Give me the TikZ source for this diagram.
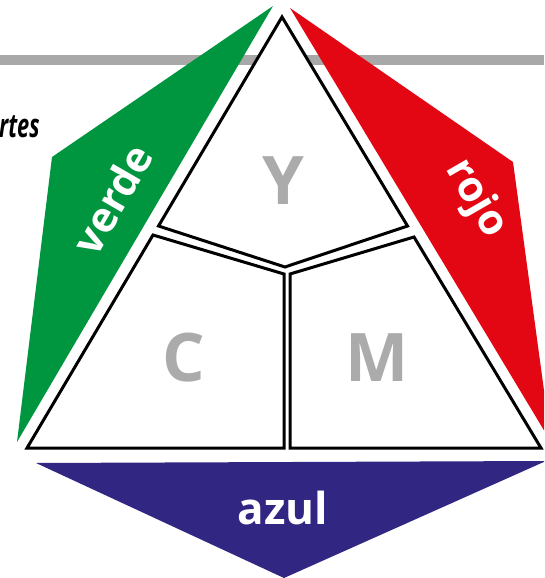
\documentclass[tikz,border=0pt]{standalone}
\usepackage{fontspec}
\setmainfont{Open Sans}
\begin{document}
\begin{tikzpicture}[x=1pt,y=-1pt,
  piece/.style={fill=white,draw=black,line width=3pt,line join=miter},
  cmy/.style={text=lettergray,inner sep=0pt,font=\bfseries\fontsize{67}{67}\selectfont},
  band/.style={text=white,inner sep=0pt,font=\bfseries\fontsize{42}{42}\selectfont}]
\definecolor{lettergray}{HTML}{ABABAB}
\definecolor{bandgray}{HTML}{A8A8A8}
\definecolor{verdec}{HTML}{009640}
\definecolor{rojoc}{HTML}{E30613}
\definecolor{azulc}{HTML}{312783}
\useasboundingbox (0,0) rectangle (544,578);
\clip (0,0) rectangle (544,578);
% gray rule
\fill[bandgray] (0,55) rectangle (544,65);
% coloured bands
\fill[verdec] (273,6) -- (52,157) -- (17,442) -- cycle;
\fill[rojoc] (290,8) -- (513,162) -- (551,442) -- cycle;
\fill[azulc] (36,463) -- (546,461) -- (284,578) -- cycle;
% triangle pieces
\draw[piece] (282,17) -- (158.5,226) -- (285,267) -- (407.5,226) -- cycle;
\draw[piece] (153,235) -- (284,274) -- (284,448) -- (27,448) -- cycle;
\draw[piece] (290,274) -- (414,237) -- (541,448) -- (290,448) -- cycle;
% letters
\node[cmy] (Y) at (283,181) {Y};
\node[cmy] (C) at (184,358) {C};
\node[cmy] (M) at (377,358) {M};
\node[band,font=\bfseries\fontsize{44}{44}\selectfont] (azul) at (283,508) {azul};
\node[band,rotate=60] (verde) at (112,199) {verde};
\node[band,rotate=-60] (rojo) at (476,199) {rojo};
\node[anchor=base west,inner sep=0pt,xscale=0.66,font=\bfseries\itshape\fontsize{33}{33}\selectfont] (rtes) at (-1,137) {rtes};
\end{tikzpicture}
\end{document}
